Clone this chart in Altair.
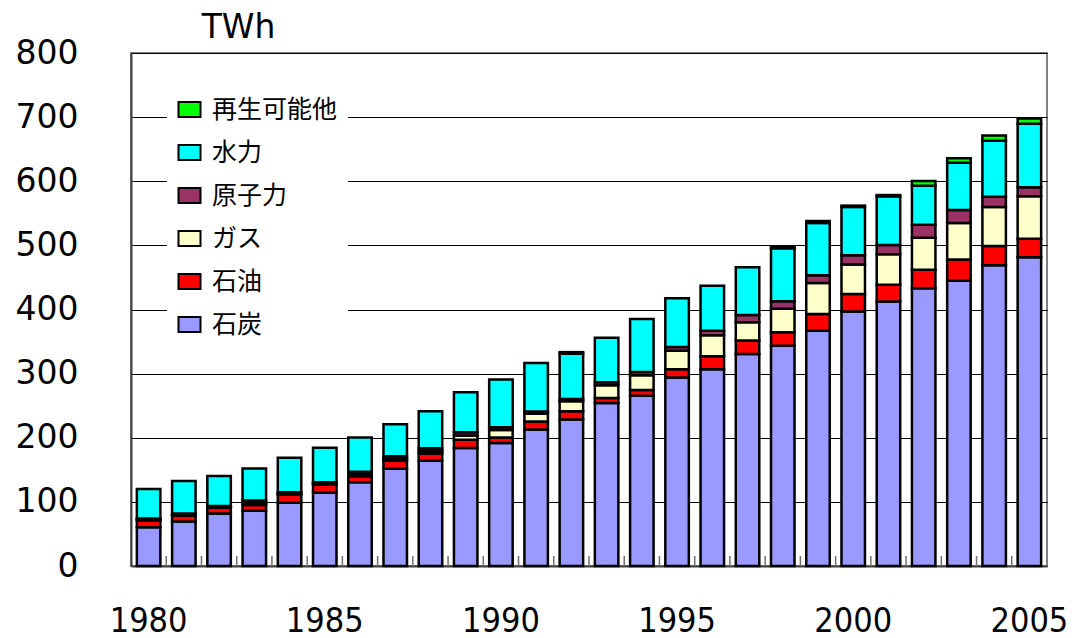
import altair as alt
import pandas as pd

# Electricity generation by source, TWh
years = list(range(1980, 2006))
coal = [60.5, 69.5, 82, 86, 98.5, 114.5, 130.5, 151.5, 164, 184, 192, 213, 228.5,
        254, 265.5, 294, 307, 330.5, 343.5, 367, 397, 412.5, 433, 445, 469, 481.5]
oil = [10.5, 9, 9, 9, 13, 12.5, 9.5, 12.5, 11.5, 13, 8.5, 12.5, 13,
       8, 9, 13, 20, 21, 21, 26, 27, 26, 29, 33, 30, 29]
gas = [1.5, 1.5, 1, 3.5, 1.5, 1.5, 3.5, 3.5, 4, 6.5, 11.5, 12, 15.5,
       20, 23, 28.5, 33, 28.5, 36.5, 48.5, 46, 47.5, 50, 57, 61, 66]
nuclear = [1.5, 2, 1.5, 3.5, 2, 2, 3.5, 3.5, 4, 5, 4.5, 3.5, 3.5,
           4.5, 5, 6, 7, 11.5, 12, 12, 14.5, 14.5, 20, 20, 16, 14]
hydro = [46, 50.5, 47, 50, 54, 54, 53.5, 50, 58, 62.5, 74.5, 75.5, 70.5,
         69.5, 82.5, 76, 70, 74.5, 82.5, 81.5, 75.5, 76, 61, 74, 87, 99]
renew = [0, 0, 0, 0, 0, 0, 0, 0, 0, 0, 0, 0, 2.5,
         0, 0, 0, 0, 0, 2.5, 3, 2, 2, 7.5, 7, 8.5, 8.5]
year_labels = [1980, 1985, 1990, 1995, 2000, 2005]

# stacking order, bottom to top
sources = ["石炭", "石油", "ガス", "原子力", "水力", "再生可能他"]
colors = ["#9999FF", "#FF0000", "#FFFFCC", "#993366", "#00FFFF", "#00FF00"]
series = [coal, oil, gas, nuclear, hydro, renew]

rows = []
for rank, (name, vals) in enumerate(zip(sources, series)):
    for yr, v in zip(years, vals):
        if v > 0:
            rows.append({"year": yr, "source": name, "twh": v, "rank": rank})
df = pd.DataFrame(rows)

# category boundaries (halfway between consecutive years)
bounds_df = pd.DataFrame({"b": [yr + 0.5 for yr in years[:-1]]})

W, H = 916, 513
pad_inner, pad_outer = 0.333, 0.1665

bars = alt.Chart(df).mark_bar(stroke="black", strokeWidth=2.5).encode(
    x=alt.X(
        "year:O",
        scale=alt.Scale(domain=years, paddingInner=pad_inner, paddingOuter=pad_outer),
        axis=alt.Axis(
            title=None,
            values=year_labels,
            labelAngle=0,
            labelAlign="center",
            labelBaseline="top",
            labelOverlap=False,
            labelBound=False,
            labelFont="DejaVu Sans Condensed",
            labelFontSize=34,
            labelColor="black",
            labelPadding=38,
            ticks=False,
            domainColor="#404040",
            domainWidth=2,
            grid=False,
        ),
    ),
    y=alt.Y(
        "twh:Q",
        stack="zero",
        scale=alt.Scale(domain=[0, 800], nice=False),
        axis=alt.Axis(
            values=list(range(0, 801, 100)),
            grid=True,
            gridColor="black",
            gridWidth=1,
            ticks=False,
            domainColor="#404040",
            domainWidth=2,
            labelFont="DejaVu Sans",
            labelFontSize=33,
            labelColor="black",
            labelPadding=53,
            title="TWh",
            titleAngle=0,
            titleX=107,
            titleY=-26,
            titleAlign="center",
            titleBaseline="middle",
            titleFont="DejaVu Sans",
            titleFontSize=33,
            titleFontWeight="normal",
            titleColor="black",
        ),
    ),
    color=alt.Color(
        "source:N",
        scale=alt.Scale(domain=sources[::-1], range=colors[::-1]),
        legend=alt.Legend(
            title=None,
            orient="none",
            legendX=36,
            legendY=34,
            symbolType="M-1,-0.68H1V0.68H-1Z",
            symbolSize=484,
            symbolStrokeColor="black",
            symbolStrokeWidth=2,
            symbolOpacity=1,
            labelFont="Noto Sans CJK JP",
            labelFontSize=25,
            labelColor="black",
            labelOffset=10,
            rowPadding=17,
            fillColor="white",
            padding=10,
        ),
    ),
    order=alt.Order("rank:Q", sort="ascending"),
)

# small inside tick marks on the category boundaries
ticks = alt.Chart(bounds_df).mark_rule(color="#707070", strokeWidth=1.5).encode(
    x=alt.X(
        "b:Q",
        scale=alt.Scale(domain=[years[0] - 0.5, years[-1] + 0.5], nice=False, zero=False),
        axis=None,
    ),
    y=alt.value(H - 10),
    y2=alt.value(H),
)

chart = alt.layer(bars, ticks).resolve_scale(x="independent").properties(
    width=W,
    height=H,
    autosize=alt.AutoSizeParams(type="none"),
    padding={"left": 131, "top": 53, "right": 28, "bottom": 72},
).configure_view(stroke="#808080", strokeWidth=2)

chart.save("out.html", embed_options={"renderer": "svg", "actions": False})
